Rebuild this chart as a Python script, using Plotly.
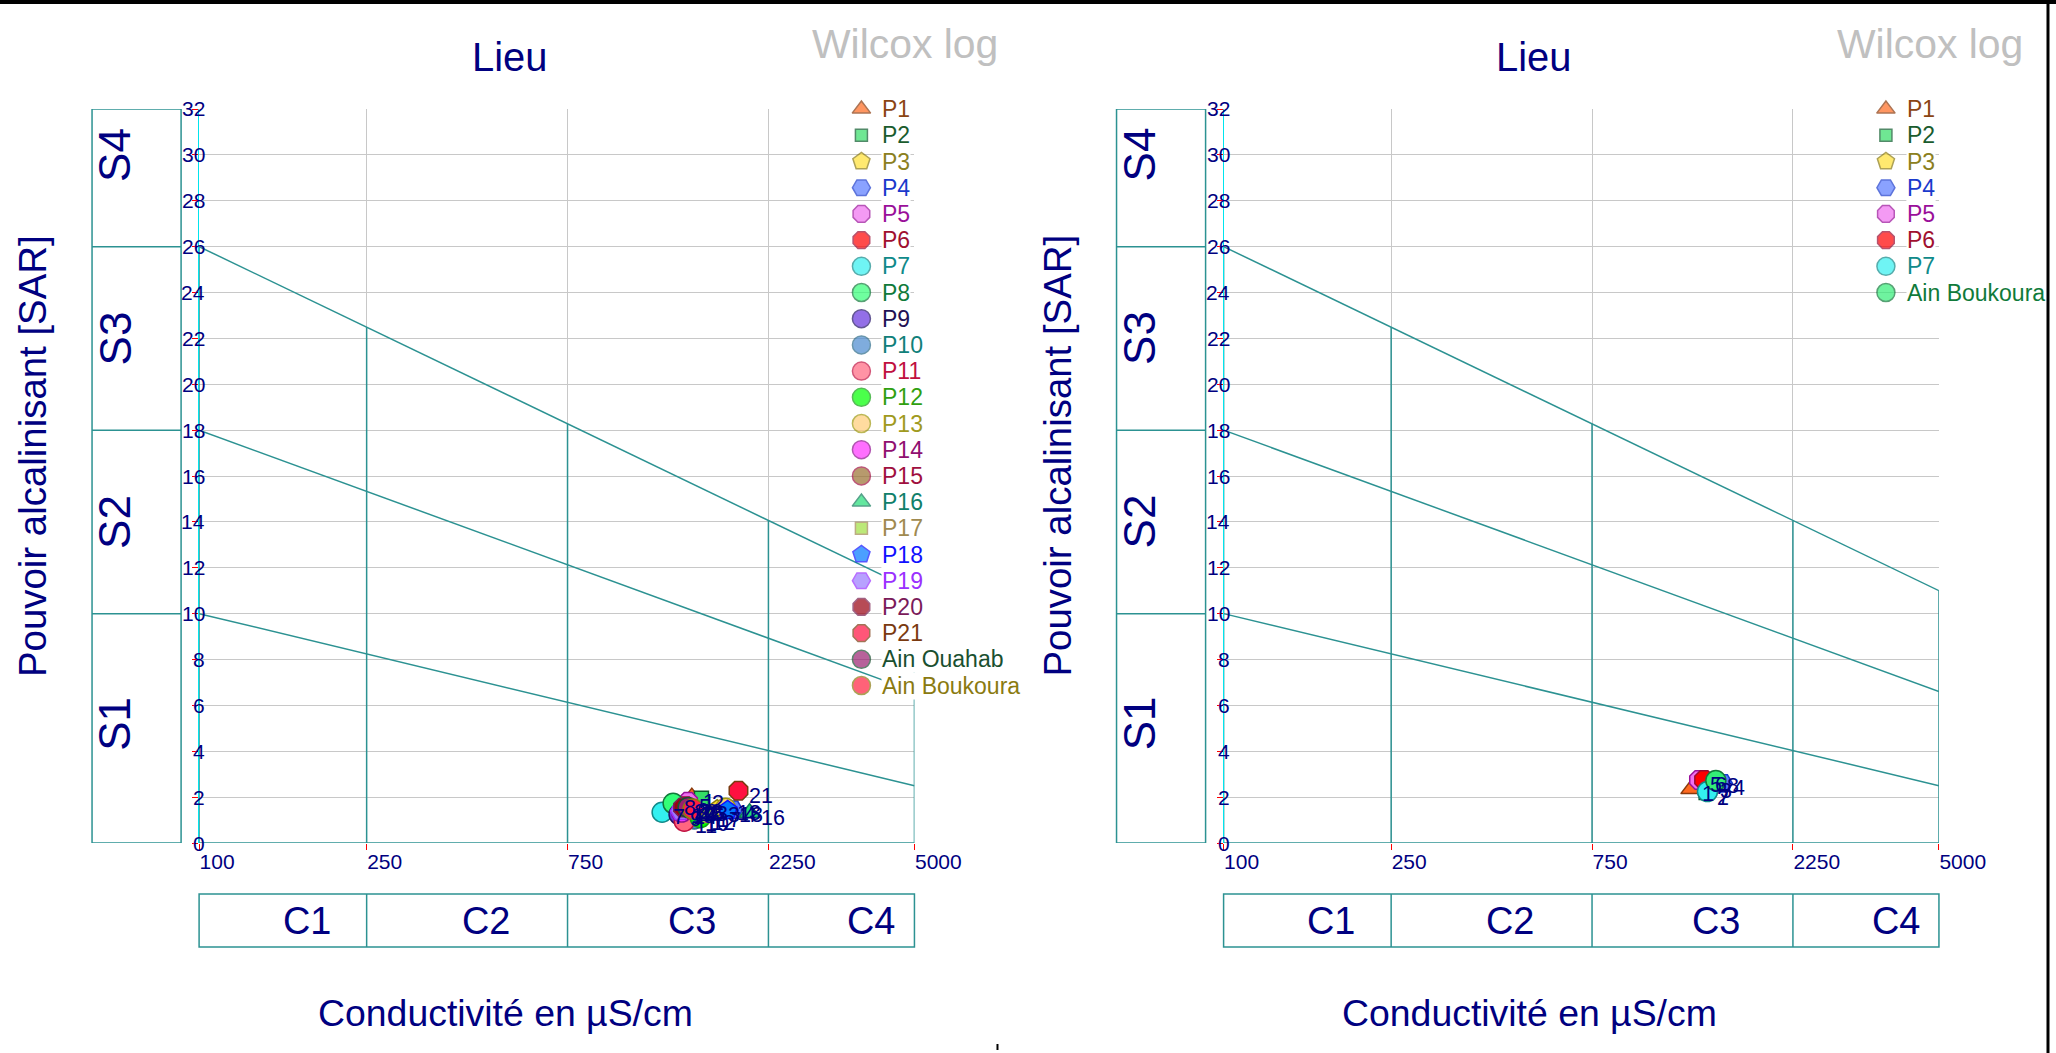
import math
import plotly.graph_objects as go

W, H = 2056, 1053
S = 2104 / 2056          # horizontal page scale of the rendered canvas
FONT = "Liberation Sans, Arial, sans-serif"
NAVY = "#000080"
TEAL = "#2C9292"
GRID = "#C8C8C8"

# Wilcox diagram: conductivity classes and sodium-hazard boundaries
ec_ticks = [100, 250, 750, 2250, 5000]
sar_ticks = list(range(0, 33, 2))
sar_at_100 = [10, 18, 26]        # S1/S2, S2/S3, S3/S4 at 100 µS/cm
sar_at_5000 = [2.5, 6.6, 11.0]   # same boundaries at 5000 µS/cm
c_classes = ["C1", "C2", "C3", "C4"]
c_label_ec = [180, 480, 1480, 3950]
s_classes = ["S1", "S2", "S3", "S4"]
s_bounds = [10, 18, 26]
s_label_sar = [5.2, 14.0, 22.0, 30.0]

# Left panel samples
left_names = ["P1", "P2", "P3", "P4", "P5", "P6", "P7", "P8", "P9", "P10", "P11",
              "P12", "P13", "P14", "P15", "P16", "P17", "P18", "P19", "P20", "P21",
              "Ain Ouahab", "Ain Boukoura"]
left_ec = [1480, 1560, 1700, 1850, 1450, 1430, 1258, 1336, 1380, 1500, 1420,
           1550, 1780, 1400, 1460, 2030, 1600, 1800, 1390, 1410, 1910, 1450, 1490]
left_sar = [2.0, 1.95, 1.45, 1.45, 1.8, 1.6, 1.34, 1.73, 1.25, 1.05, 0.95,
            1.1, 1.51, 1.35, 1.5, 1.32, 1.2, 1.42, 1.4, 1.55, 2.28, 1.55, 1.48]

# Right panel samples
right_names = ["P1", "P2", "P3", "P4", "P5", "P6", "P7", "Ain Boukoura"]
right_ec = [1290, 1400, 1420, 1530, 1346, 1384, 1410, 1476]
right_sar = [2.35, 2.2, 2.5, 2.6, 2.75, 2.75, 2.24, 2.72]

# symbol, fill, outline, legend text colour, size
STYLE_LEFT = {
    "P1": ("triangle-up", "#FF6A1F", "#8A3A0C", "#8B4513", 18),
    "P2": ("square", "#33DD66", "#0A5A2A", "#1A5C2E", 14),
    "P3": ("pentagon", "#FFE033", "#8B7A10", "#8B8020", 20),
    "P4": ("hexagon2", "#5A7BFF", "#1A3ACC", "#1A3ACC", 20),
    "P5": ("octagon", "#F070F0", "#9A109A", "#9A109A", 20),
    "P6": ("octagon", "#FF0000", "#9A0A30", "#A01030", 20),
    "P7": ("circle", "#33F0F0", "#108A8A", "#108A8A", 20),
    "P8": ("circle", "#33FF77", "#107A3A", "#107A3A", 20),
    "P9": ("circle", "#6633DD", "#221166", "#221155", 20),
    "P10": ("circle", "#4A8AD0", "#2A6A8A", "#10807A", 20),
    "P11": ("circle", "#FF6680", "#C01040", "#C01040", 20),
    "P12": ("circle", "#00FF00", "#10A010", "#30A010", 20),
    "P13": ("circle", "#FFCC77", "#A09A10", "#A09A20", 20),
    "P14": ("circle", "#FF33FF", "#901090", "#901070", 20),
    "P15": ("circle", "#9A7030", "#A01040", "#A01040", 20),
    "P16": ("triangle-up", "#22DD77", "#107A5A", "#10806A", 18),
    "P17": ("square", "#A0E040", "#A08A50", "#A08A50", 14),
    "P18": ("pentagon", "#0077FF", "#1010FF", "#1010FF", 20),
    "P19": ("hexagon2", "#9A7AFF", "#9A30FF", "#9A30FF", 20),
    "P20": ("octagon", "#9A0010", "#7A2050", "#7A1A5A", 20),
    "P21": ("octagon", "#FF1040", "#7A3A10", "#7A3A10", 20),
    "Ain Ouahab": ("circle", "#9A2070", "#1A5030", "#1A5030", 20),
    "Ain Boukoura": ("circle", "#FF2040", "#8A7A10", "#8A7A10", 20),
}
STYLE_RIGHT = dict(STYLE_LEFT)
STYLE_RIGHT["Ain Boukoura"] = ("circle", "#33EE77", "#107A3A", "#107A3A", 20)


def px_x(p):
    return p / W


def px_y(p):
    return 1 - p / H


def fs(size):
    return round(size * S, 1)


LX0, LX1 = math.log10(ec_ticks[0]), math.log10(ec_ticks[-1])
PLOT_L, PLOT_W = 199, 715     # plot area left edge and width


def top_sar(ec):
    t = (math.log10(ec) - LX0) / (LX1 - LX0)
    return sar_at_100[-1] + (sar_at_5000[-1] - sar_at_100[-1]) * t


def ec_to_paper(ec, dx):
    t = (math.log10(ec) - LX0) / (LX1 - LX0)
    return px_x(PLOT_L + dx + t * PLOT_W)


def text(x, y, s, size, color=NAVY, xref="paper", yref="paper", **kw):
    d = dict(x=x, y=y, xref=xref, yref=yref, text=s, showarrow=False,
             xanchor="center", yanchor="middle",
             font=dict(family=FONT, size=fs(size), color=color))
    d.update(kw)
    return d


fig = go.Figure()
shapes, annotations = [], []

panels = [
    dict(xa="x", ya="y", dx=0, names=left_names, ec=left_ec, sar=left_sar,
         style=STYLE_LEFT, lx="x3", ly="y3", leg_left=840),
    dict(xa="x2", ya="y2", dx=1024, names=right_names, ec=right_ec, sar=right_sar,
         style=STYLE_RIGHT, lx="x4", ly="y4", leg_left=1864),
]

layout_axes = {}
for p in panels:
    xa, ya, dx = p["xa"], p["ya"], p["dx"]
    xkey = "xaxis" if xa == "x" else "xaxis" + xa[1:]
    ykey = "yaxis" if ya == "y" else "yaxis" + ya[1:]

    # sodium-hazard boundary lines
    for a, b in zip(sar_at_100, sar_at_5000):
        fig.add_trace(go.Scatter(x=[ec_ticks[0], ec_ticks[-1]], y=[a, b], mode="lines",
                                 line=dict(color=TEAL, width=1.5), xaxis=xa, yaxis=ya,
                                 hoverinfo="skip", showlegend=False))
    # conductivity class verticals, up to the S3/S4 boundary, plus the base line
    vx, vy = [], []
    for e in ec_ticks:
        vx += [e, e, None]
        vy += [0, top_sar(e), None]
    vx += [ec_ticks[0], ec_ticks[-1]]
    vy += [0, 0]
    fig.add_trace(go.Scatter(x=vx, y=vy, mode="lines", line=dict(color=TEAL, width=1.5),
                             xaxis=xa, yaxis=ya, hoverinfo="skip", showlegend=False))

    # samples
    for name, e, s in zip(p["names"], p["ec"], p["sar"]):
        sym, fill, edge, _, size = p["style"][name]
        fig.add_trace(go.Scatter(x=[e], y=[s], mode="markers", name=name,
                                 marker=dict(symbol=sym, color=fill, size=size,
                                             line=dict(color=edge, width=1.5)),
                                 xaxis=xa, yaxis=ya, showlegend=False))
    for k, (e, s) in enumerate(zip(p["ec"], p["sar"])):
        annotations.append(text(math.log10(e), s, str(k + 1), 21, xref=xa, yref=ya,
                                xanchor="left", yanchor="top", xshift=9, yshift=9))

    # legend column: symbols on a helper axis, coloured labels on white
    n = len(p["names"])
    left = p["leg_left"]
    right = min(left + 190, W)
    st = [p["style"][nm] for nm in p["names"]]
    fig.add_trace(go.Scatter(x=[left + 21] * n, y=list(range(n)), mode="markers",
                             marker=dict(symbol=[s[0] for s in st], color=[s[1] for s in st],
                                         size=[s[4] - 2 for s in st],
                                         line=dict(color=[s[2] for s in st], width=1.5)),
                             xaxis=p["lx"], yaxis=p["ly"], hoverinfo="skip",
                             showlegend=False, cliponaxis=False))
    for k, nm in enumerate(p["names"]):
        annotations.append(text(left + 41, k, nm, 22.5, color=p["style"][nm][3],
                                xref=p["lx"], yref=p["ly"], xanchor="left",
                                bgcolor="white", borderpad=0))
    layout_axes["xaxis" + p["lx"][1:]] = dict(
        domain=[px_x(left), px_x(right)], range=[left, right],
        visible=False, anchor=p["ly"], fixedrange=True)
    layout_axes["yaxis" + p["ly"][1:]] = dict(
        domain=[px_y(96 + 26.2 * n), px_y(96)], range=[n - 0.5, -0.5],
        visible=False, anchor=p["lx"], fixedrange=True)

    # axes
    layout_axes[xkey] = dict(
        type="log", range=[LX0, LX1], domain=[px_x(PLOT_L + dx), px_x(PLOT_L + PLOT_W + dx)],
        tickvals=ec_ticks, ticktext=[str(v) for v in ec_ticks],
        ticks="outside", ticklen=6, tickcolor="#FF0000", tickwidth=1,
        ticklabelposition="outside right",
        tickfont=dict(family=FONT, size=fs(20.5), color=NAVY),
        showgrid=True, gridcolor=GRID, gridwidth=1, showline=False, zeroline=False,
        anchor=ya, fixedrange=True)
    layout_axes[ykey] = dict(
        range=[0, 32], domain=[px_y(843), px_y(109)], tickvals=sar_ticks,
        showticklabels=False, ticks="outside", ticklen=6, tickcolor="#FF0000",
        showgrid=True, gridcolor=GRID, gridwidth=1, showline=True,
        linecolor="#00E5EE", linewidth=1, zeroline=False, anchor=xa, fixedrange=True)

    for v in sar_ticks:
        annotations.append(text(px_x(207 + dx), v, str(v), 20.5, yref=ya, xanchor="right"))

    # S class strip
    shapes.append(dict(type="rect", xref="paper", yref=ya, x0=px_x(92 + dx), x1=px_x(181 + dx),
                       y0=0, y1=32, line=dict(color=TEAL, width=1.5)))
    for b in s_bounds:
        shapes.append(dict(type="line", xref="paper", yref=ya, x0=px_x(92 + dx),
                           x1=px_x(181 + dx), y0=b, y1=b, line=dict(color=TEAL, width=1.5)))
    for lab, v in zip(s_classes, s_label_sar):
        annotations.append(text(px_x(115 + dx), v, lab, 43, yref=ya, textangle=-90))

    # C class strip
    shapes.append(dict(type="rect", xref="paper", yref="paper",
                       x0=ec_to_paper(ec_ticks[0], dx), x1=ec_to_paper(ec_ticks[-1], dx),
                       y0=px_y(947), y1=px_y(894), line=dict(color=TEAL, width=1.5)))
    for e in ec_ticks[1:-1]:
        shapes.append(dict(type="line", xref="paper", yref="paper",
                           x0=ec_to_paper(e, dx), x1=ec_to_paper(e, dx),
                           y0=px_y(947), y1=px_y(894), line=dict(color=TEAL, width=1.5)))
    for lab, e in zip(c_classes, c_label_ec):
        annotations.append(text(ec_to_paper(e, dx), px_y(921), lab, 37))

    # titles
    annotations.append(text(px_x(509 + dx), px_y(57), "Lieu", 39))
    annotations.append(text(px_x(1000 + dx), px_y(44), "Wilcox log", 40, color="#C0C0C0",
                            xanchor="right"))
    annotations.append(text(px_x(505 + dx), px_y(1013), "Conductivité en µS/cm", 36.5))
    annotations.append(text(px_x(33 + dx), px_y(456), "Pouvoir alcalinisant [SAR]", 37.5,
                            textangle=-90))

# page frame
shapes.append(dict(type="line", xref="paper", yref="paper", x0=0, x1=1, y0=px_y(2), y1=px_y(2),
                   line=dict(color="black", width=4)))
shapes.append(dict(type="line", xref="paper", yref="paper", x0=px_x(2047), x1=px_x(2047),
                   y0=0, y1=1, line=dict(color="black", width=3)))
shapes.append(dict(type="line", xref="paper", yref="paper", x0=px_x(997), x1=px_x(997),
                   y0=px_y(1050), y1=px_y(1044), line=dict(color="black", width=2)))

fig.update_layout(
    width=round(W * S), height=H, autosize=False,
    margin=dict(l=0, r=0, t=0, b=0),
    paper_bgcolor="white", plot_bgcolor="rgba(0,0,0,0)",
    showlegend=False, shapes=shapes, annotations=annotations,
    font=dict(family=FONT, color=NAVY),
    **layout_axes,
)

page_js = """
document.body.style.margin = '0';
document.documentElement.style.overflow = 'hidden';
"""

fig.write_html("out.html", include_plotlyjs=True, post_script=page_js,
               config={"displayModeBar": False, "responsive": False})
